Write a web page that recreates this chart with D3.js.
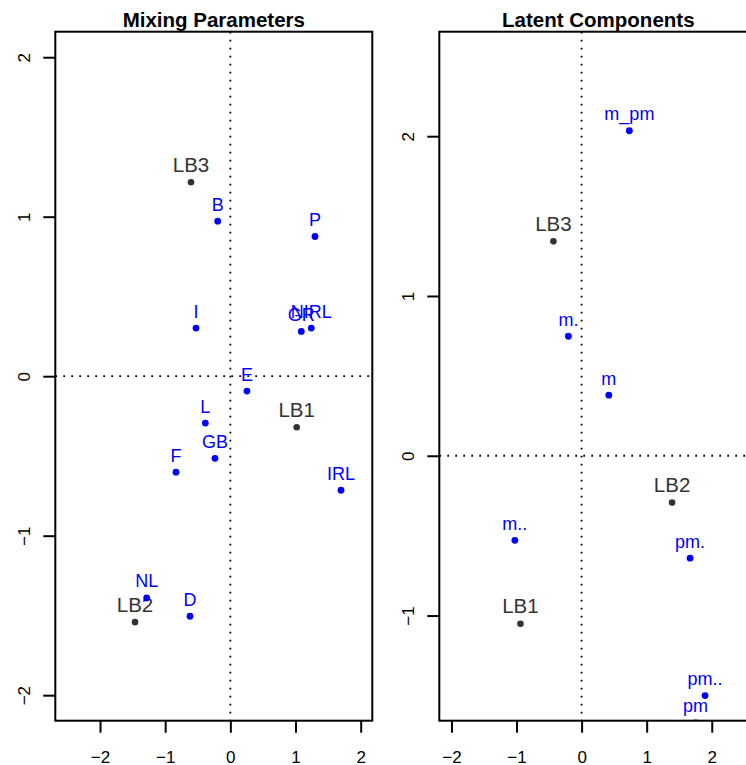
<!DOCTYPE html>
<html>
<head>
<meta charset="utf-8">
<script src="https://cdn.jsdelivr.net/npm/d3@7"></script>
<style>
  html, body { margin: 0; padding: 0; background: #ffffff; }
  svg { display: block; font-family: "Liberation Sans", Arial, Helvetica, sans-serif; }
</style>
</head>
<body>
<svg id="chart" width="746" height="765"></svg>
<script>
// ---- Mixing parameters (left panel) ----
const mixNames = ["B", "P", "I", "GR", "NIRL", "E", "L", "GB", "F", "IRL", "NL", "D"];
const mixX = [-0.194, 1.299, -0.527, 1.089, 1.242, 0.255, -0.384, -0.236, -0.834, 1.698, -1.284, -0.619];
const mixY = [0.972, 0.876, 0.302, 0.281, 0.302, -0.093, -0.294, -0.515, -0.602, -0.715, -1.390, -1.505];
const mixLBNames = ["LB1", "LB2", "LB3"];
const mixLBX = [1.018, -1.463, -0.604];
const mixLBY = [-0.320, -1.542, 1.216];

// ---- Latent components (right panel) ----
const latNames = ["m_pm", "m.", "m", "m..", "pm.", "pm..", "pm"];
const latX = [0.734, -0.203, 0.418, -1.026, 1.667, 1.897, 1.751];
const latY = [2.034, 0.748, 0.379, -0.529, -0.641, -1.501, -1.672];
const latLBNames = ["LB1", "LB2", "LB3"];
const latLBX = [-0.940, 1.390, -0.433];
const latLBY = [-1.051, -0.293, 1.342];

// Tick values
const mixXTicks = [-2, -1, 0, 1, 2];
const mixYTicks = [-2, -1, 0, 1, 2];
const latXTicks = [-2, -1, 0, 1, 2, 3];
const latYTicks = [-1, 0, 1, 2];

const svg = d3.select("#chart");
const minus = v => String(v).replace("-", "\u2212");

const BLUE = "#0000ff";
const GREY = "#333333";

function panel(cfg) {
  const { id, left, right, top, bottom, xDomain, yDomain, xTicks, yTicks, title,
          names, xs, ys, lbNames, lbXs, lbYs } = cfg;

  const x = d3.scaleLinear().domain(xDomain).range([left, right]);
  const y = d3.scaleLinear().domain(yDomain).range([bottom, top]);

  const g = svg.append("g");

  svg.append("clipPath").attr("id", id)
    .append("rect")
    .attr("x", left).attr("y", top)
    .attr("width", right - left).attr("height", bottom - top);

  // Axes
  const xAxis = g.append("g")
    .attr("transform", `translate(0,${bottom})`)
    .call(d3.axisBottom(x).tickValues(xTicks).tickSize(12).tickPadding(18).tickFormat(minus));
  const yAxis = g.append("g")
    .attr("transform", `translate(${left},0)`)
    .call(d3.axisLeft(y).tickValues(yTicks).tickSize(12).tickFormat(minus));

  [xAxis, yAxis].forEach(a => {
    a.select(".domain").remove();
    a.selectAll(".tick line").attr("stroke", "#000").attr("stroke-width", 2);
    a.selectAll(".tick text")
      .attr("fill", "#000")
      .style("font-size", "17px")
      .style("font-family", "'Liberation Sans', Arial, sans-serif");
  });
  yAxis.selectAll(".tick text")
    .attr("transform", "rotate(-90)")
    .attr("x", 0)
    .attr("y", -25)
    .attr("dy", 0)
    .attr("text-anchor", "middle");

  const plot = g.append("g").attr("clip-path", `url(#${id})`);

  // Reference lines through the origin
  plot.append("line")
    .attr("x1", left).attr("x2", right)
    .attr("y1", y(0)).attr("y2", y(0))
    .attr("stroke", "#000").attr("stroke-width", 1.8)
    .attr("stroke-dasharray", "1.8 6.2");
  plot.append("line")
    .attr("x1", x(0)).attr("x2", x(0))
    .attr("y1", top).attr("y2", bottom)
    .attr("stroke", "#000").attr("stroke-width", 1.8)
    .attr("stroke-dasharray", "1.8 6.2");

  // Latent-class points
  const lb = lbNames.map((n, i) => ({ n, x: lbXs[i], y: lbYs[i] }));
  plot.selectAll("circle.lb").data(lb).join("circle")
    .attr("class", "lb")
    .attr("cx", d => x(d.x)).attr("cy", d => y(d.y))
    .attr("r", 3.3).attr("fill", GREY);
  plot.selectAll("text.lb").data(lb).join("text")
    .attr("class", "lb")
    .attr("x", d => x(d.x)).attr("y", d => y(d.y) - 10.5)
    .attr("text-anchor", "middle")
    .attr("fill", GREY)
    .style("font-size", "20.5px")
    .text(d => d.n);

  // Item points
  const pts = names.map((n, i) => ({ n, x: xs[i], y: ys[i] }));
  plot.selectAll("circle.pt").data(pts).join("circle")
    .attr("class", "pt")
    .attr("cx", d => x(d.x)).attr("cy", d => y(d.y))
    .attr("r", 3.4).attr("fill", BLUE);
  plot.selectAll("text.pt").data(pts).join("text")
    .attr("class", "pt")
    .attr("x", d => x(d.x)).attr("y", d => y(d.y) - 10.5)
    .attr("text-anchor", "middle")
    .attr("fill", BLUE)
    .style("font-size", "18px")
    .text(d => d.n);

  // Frame
  g.append("rect")
    .attr("x", left).attr("y", top)
    .attr("width", right - left).attr("height", bottom - top)
    .attr("fill", "none").attr("stroke", "#000").attr("stroke-width", 2);

  // Title
  g.append("text")
    .attr("x", (left + right) / 2).attr("y", 27)
    .attr("text-anchor", "middle")
    .style("font-size", "20.5px").style("font-weight", "bold")
    .attr("fill", "#000")
    .text(title);
}

panel({
  id: "clipMix", left: 55.3, right: 372.3, top: 31.7, bottom: 720.7,
  xDomain: [-2.686, 2.178], yDomain: [-2.16, 2.16],
  xTicks: mixXTicks, yTicks: mixYTicks, title: "Mixing Parameters",
  names: mixNames, xs: mixX, ys: mixY,
  lbNames: mixLBNames, lbXs: mixLBX, lbYs: mixLBY
});

panel({
  id: "clipLat", left: 439.3, right: 757.3, top: 31.7, bottom: 720.7,
  xDomain: [-2.187, 2.70], yDomain: [-1.658, 2.654],
  xTicks: latXTicks, yTicks: latYTicks, title: "Latent Components",
  names: latNames, xs: latX, ys: latY,
  lbNames: latLBNames, lbXs: latLBX, lbYs: latLBY
});
</script>
</body>
</html>
